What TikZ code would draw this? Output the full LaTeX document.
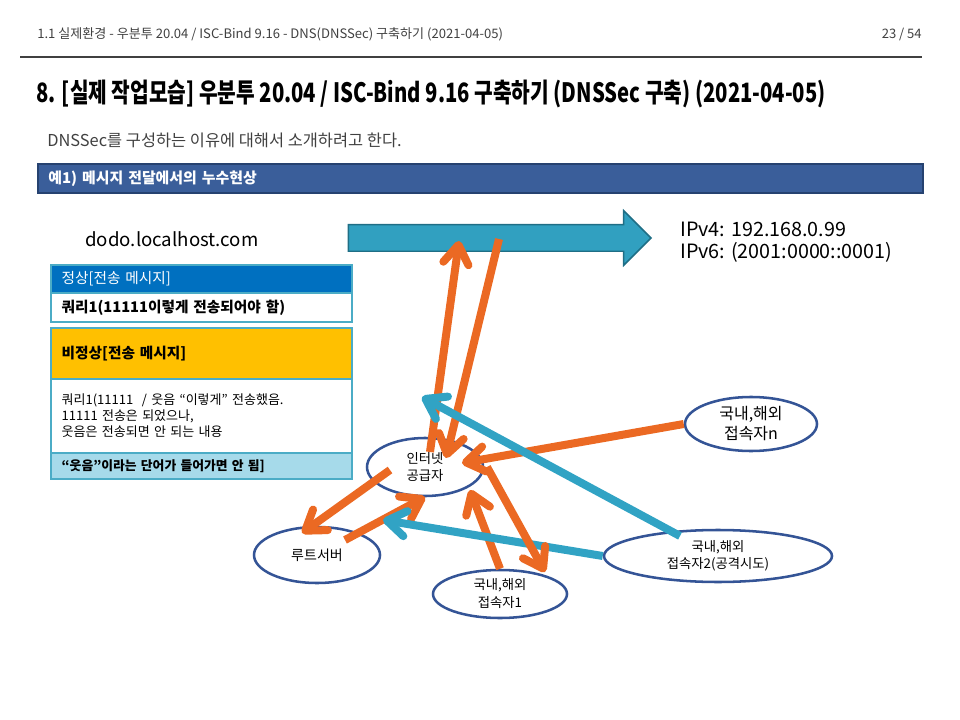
\documentclass[tikz,border=0pt]{standalone}
\usepackage{fontspec}
\setmainfont{Noto Sans CJK KR}
\newfontfamily\condfont[FakeStretch=0.76]{Noto Sans CJK KR}
\usepackage{tikz}
\usetikzlibrary{arrows.meta,shapes.geometric,shapes.arrows}
\definecolor{txtgray}{RGB}{64,64,64}
\definecolor{barblue}{RGB}{58,94,154}
\definecolor{barborder}{RGB}{38,66,112}
\definecolor{hdrblue}{RGB}{0,112,192}
\definecolor{hdryellow}{RGB}{255,192,0}
\definecolor{notecyan}{RGB}{166,218,234}
\definecolor{boxborder}{RGB}{75,172,198}
\definecolor{flowteal}{RGB}{49,160,192}
\definecolor{flowborder}{RGB}{31,110,133}
\definecolor{lineorange}{RGB}{235,105,35}
\definecolor{lineteal}{RGB}{49,163,196}
\definecolor{ringblue}{RGB}{52,84,150}
\newcommand{\pw}{0.75pt}

\tikzset{
  bubble/.style={ellipse, draw=ringblue, line width=1.9pt, inner sep=0pt, align=center},
  msgrow/.style={rectangle, draw=boxborder, line width=1.1pt, outer sep=0pt,
    anchor=north west, minimum width=225.75pt, text width=209.75pt, inner xsep=8pt,
    inner ysep=0pt, align=left, font=\fontsize{11}{13}\selectfont},
  oarrow/.style={draw=lineorange, line width=6pt, -{Straight Barb[round,length=14pt,width=19pt]}},
  tarrow/.style={draw=lineteal, line width=6pt, -{Straight Barb[round,length=14pt,width=19pt]}},
}

\begin{document}
\begin{tikzpicture}[x=\pw,y=-\pw]
  \useasboundingbox (0,0) rectangle (960,720);
  % page header
  \node[anchor=west, inner sep=0pt, text=txtgray, font=\fontsize{9.8}{11}\selectfont] (runhead) at (37,34)
    {1.1 실제환경 - 우분투 20.04 / ISC-Bind 9.16 - DNS(DNSSec) 구축하기 (2021-04-05)};
  \node[anchor=east, inner sep=0pt, text=txtgray, font=\fontsize{9.8}{11}\selectfont] (pageno) at (922,34) {23 / 54};
  \draw[txtgray, line width=0.8pt] (20,57) -- (922,57);
  \node[anchor=west, inner sep=0pt, font=\condfont\bfseries\fontsize{20}{24}\selectfont] (title) at (36,94)
    {8. [실제 작업모습] 우분투 20.04 / ISC-Bind 9.16 구축하기 (DNSSec 구축) (2021-04-05)};
  \node[anchor=west, inner sep=0pt, text=txtgray, font=\fontsize{12.3}{14}\selectfont] (intro) at (47,140)
    {DNSSec를 구성하는 이유에 대해서 소개하려고 한다.};
  \node[rectangle, draw=barborder, fill=barblue, line width=1.2pt, anchor=north west,
    minimum width=663.75pt, minimum height=21.75pt, inner xsep=7.5pt, text=white,
    font=\bfseries\fontsize{11.2}{13}\selectfont, text width=648pt, align=left] (bar) at (37,163)
    {예1) 메시지 전달에서의 누수현상};

  % message boxes
  \node[anchor=west, inner sep=0pt, font=\fontsize{14}{16}\selectfont] (host) at (85,239) {dodo.localhost.com};
  \node[msgrow, fill=hdrblue, text=white, minimum height=21pt] (okhead) at (51,265) {정상[전송 메시지]};
  \node[msgrow, fill=white, minimum height=21.75pt, font=\bfseries\fontsize{11}{13}\selectfont] (okbody) at (okhead.south west)
    {쿼리1(11111이렇게 전송되어야 함)};
  \node[msgrow, fill=hdryellow, minimum height=38.25pt, font=\bfseries\fontsize{11}{13}\selectfont] (badhead) at (51,328)
    {비정상[전송 메시지]};
  \node[msgrow, fill=white, minimum height=55.5pt, font=\fontsize{9.75}{12}\selectfont] (badbody) at (badhead.south west)
    {쿼리1(11111~ / 웃음 “이렇게” 전송했음.\\11111 전송은 되었으나,\\웃음은 전송되면 안 되는 내용};
  \node[msgrow, fill=notecyan, minimum height=19.5pt, font=\bfseries\fontsize{9.6}{11}\selectfont] (badnote) at (badbody.south west)
    {“웃음”이라는 단어가 들어가면 안 됨]};

  % forward path
  \node[single arrow, draw=flowborder, fill=flowteal, line width=1.1pt, inner xsep=0pt, inner ysep=9.4pt,
    minimum height=227pt, single arrow head extend=10.5pt] (fwd) at (493,238) {};
  \node[anchor=west, inner sep=0pt, align=left, font=\fontsize{14.8}{16.5}\selectfont] (addr) at (680,242)
    {IPv4: 192.168.0.99\\IPv6: (2001:0000::0001)};

  % hosts
  \node[bubble, minimum width=87pt, minimum height=43.5pt, font=\fontsize{10}{13}\selectfont] (isp) at (425,467) {인터넷\\공급자};
  \node[bubble, minimum width=94.5pt, minimum height=42pt, font=\fontsize{10.5}{13}\selectfont] (root) at (317,555) {루트서버};
  \node[bubble, minimum width=100.5pt, minimum height=36pt, font=\fontsize{10}{13.5}\selectfont] (user1) at (500,594) {국내,해외\\접속자1};
  \node[bubble, minimum width=99pt, minimum height=40.5pt, font=\fontsize{12}{15}\selectfont] (usern) at (751,424) {국내,해외\\접속자n};
  \node[bubble, minimum width=171pt, minimum height=39pt, font=\fontsize{10}{12.5}\selectfont] (user2) at (718,556) {국내,해외\\접속자2(공격시도)};

  \coordinate (upfrom) at (430,452);
  \coordinate (upto) at (459,241);
  \coordinate (downfrom) at (499,239);
  \coordinate (downto) at (446,458);
  \coordinate (nto) at (462,463);
  \coordinate (rootfrom) at (390,470);
  \coordinate (rootto) at (302,533);
  \coordinate (backfrom) at (345,540);
  \coordinate (backto) at (425,497);
  \coordinate (oneto) at (470,490);
  \coordinate (ispout) at (487,467);
  \coordinate (oneback) at (545,572);
  \coordinate (atkfrom) at (680,536);
  \coordinate (atkto) at (422,397);
  \coordinate (sneakto) at (383,520);

  \draw[oarrow] (upfrom) -- (upto);
  \draw[oarrow] (downfrom) -- (downto);
  \draw[oarrow] (usern.west) -- (nto);
  \draw[oarrow] (rootfrom) -- (rootto);
  \draw[oarrow] (backfrom) -- (backto);
  \draw[oarrow] (user1.north) -- (oneto);
  \draw[tarrow] (atkfrom) -- (atkto);
  \draw[tarrow] (user2.west) -- (sneakto);
  \draw[oarrow] (ispout) -- (oneback);
\end{tikzpicture}
\end{document}
